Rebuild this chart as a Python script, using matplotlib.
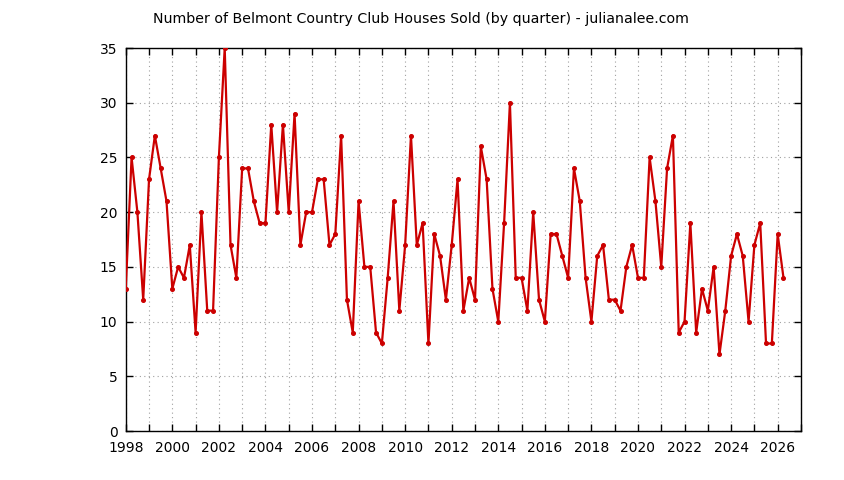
import matplotlib
matplotlib.use("Agg")
import matplotlib.pyplot as plt
from matplotlib.ticker import MultipleLocator

# quarterly sales, starting Q1 1998
start_year = 1998
sold = [
    13, 25, 20, 12,   # 1998
    23, 27, 24, 21,   # 1999
    13, 15, 14, 17,   # 2000
    9, 20, 11, 11,    # 2001
    25, 35, 17, 14,   # 2002
    24, 24, 21, 19,   # 2003
    19, 28, 20, 28,   # 2004
    20, 29, 17, 20,   # 2005
    20, 23, 23, 17,   # 2006
    18, 27, 12, 9,    # 2007
    21, 15, 15, 9,    # 2008
    8, 14, 21, 11,    # 2009
    17, 27, 17, 19,   # 2010
    8, 18, 16, 12,    # 2011
    17, 23, 11, 14,   # 2012
    12, 26, 23, 13,   # 2013
    10, 19, 30, 14,   # 2014
    14, 11, 20, 12,   # 2015
    10, 18, 18, 16,   # 2016
    14, 24, 21, 14,   # 2017
    10, 16, 17, 12,   # 2018
    12, 11, 15, 17,   # 2019
    14, 14, 25, 21,   # 2020
    15, 24, 27, 9,    # 2021
    10, 19, 9, 13,    # 2022
    11, 15, 7, 11,    # 2023
    16, 18, 16, 10,   # 2024
    17, 19, 8, 8,     # 2025
    18, 14,           # 2026
]
quarters = [start_year + i / 4 for i in range(len(sold))]

title = "Number of Belmont Country Club Houses Sold (by quarter) - julianalee.com"

fig = plt.figure(figsize=(8.44, 4.8), dpi=100)
ax = fig.add_axes([0.149, 0.102, 0.8, 0.798])

ax.plot(quarters, sold, color="#cc0000", lw=1.6, marker="o", ms=2.6,
        mec="#cc0000", mfc="#cc0000", zorder=3)

ax.set_xlim(1998, 2027)
ax.set_ylim(0, 35)
ax.xaxis.set_major_locator(MultipleLocator(2))
ax.xaxis.set_minor_locator(MultipleLocator(1))
ax.yaxis.set_major_locator(MultipleLocator(5))

ax.tick_params(which="both", direction="in", top=True, right=True,
               length=5, width=1, labelsize=10)
ax.tick_params(axis="x", pad=7)
ax.tick_params(axis="y", pad=6)
ax.grid(which="both", color="#a0a0a0", linestyle=(0, (1, 3)), lw=0.8)
for s in ax.spines.values():
    s.set_linewidth(1)

fig.text(0.499, 0.96, title, ha="center", va="center", fontsize=10.2)

fig.savefig("out.png", dpi=100)
